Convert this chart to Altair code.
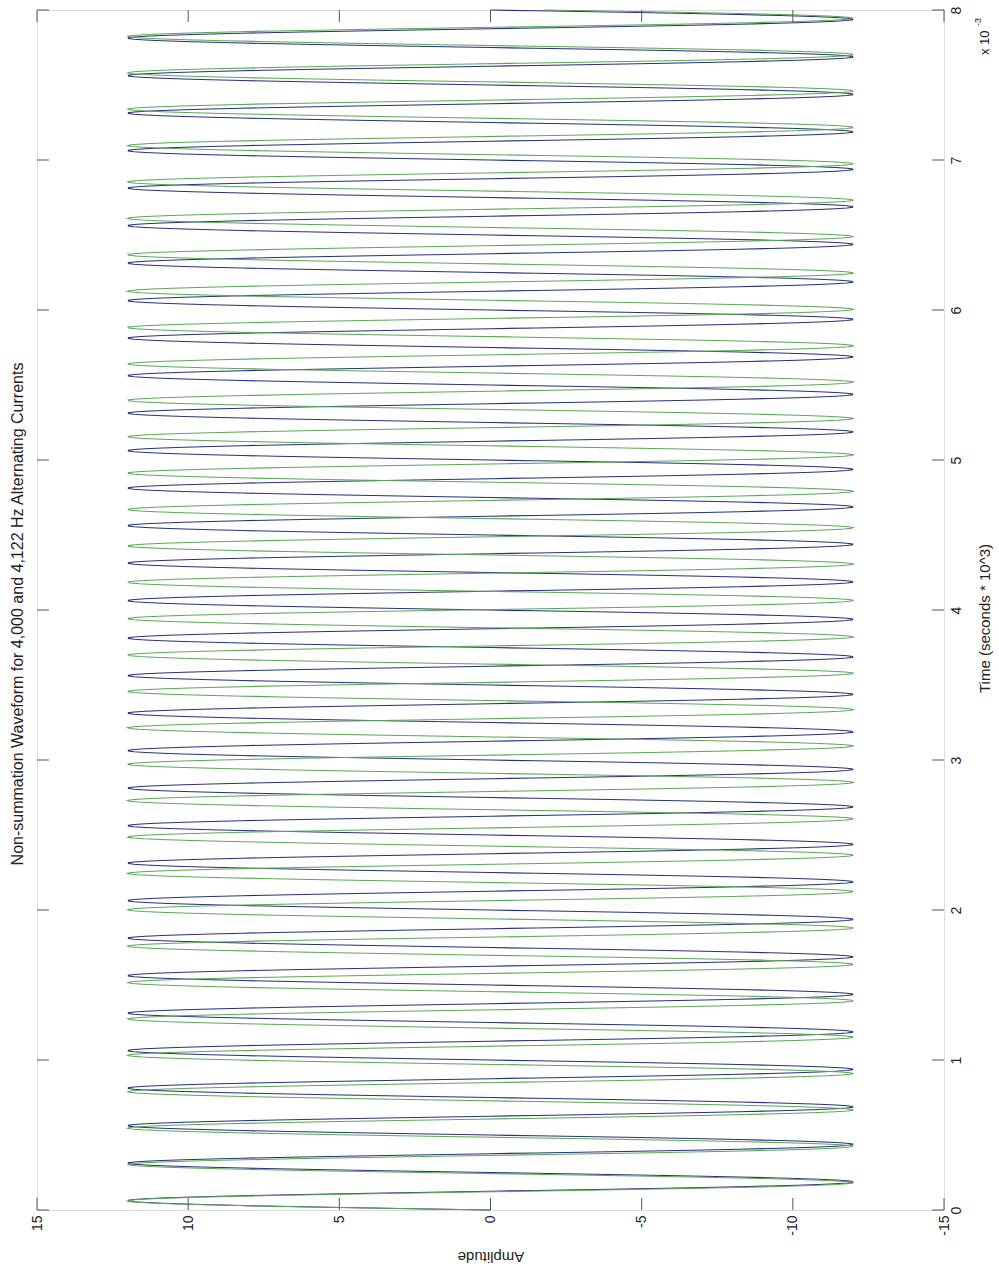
import numpy as np
import pandas as pd
import altair as alt

# Two alternating currents plotted against time (not summed)
freqs_hz = [4000, 4122]
series_names = ["4,000 Hz", "4,122 Hz"]
series_colors = ["#27327a", "#5aa857"]
amplitude = 12
duration_ms = 8
samples_per_ms = 200

amp_ticks = [-15, -10, -5, 0, 5, 10, 15]
time_ticks = [0, 1, 2, 3, 4, 5, 6, 7, 8]

title_text = "Non-summation Waveform for 4,000 and 4,122 Hz Alternating Currents"

t_ms = np.arange(0, duration_ms * samples_per_ms + 1) / samples_per_ms
frames = []
for name, f in zip(series_names, freqs_hz):
    frames.append(pd.DataFrame({
        "t": t_ms,
        "amp": amplitude * np.sin(2 * np.pi * f * t_ms / 1000.0),
        "series": name,
    }))
waves = pd.concat(frames, ignore_index=True)

W, H = 907, 1200
FONT = "Liberation Sans"
TEXT_COLOR = "#222222"
AXIS_COLOR = "#555555"
TICK_LEN = 12

x_scale = alt.Scale(domain=[-15, 15], reverse=True, nice=False, zero=False)
y_scale = alt.Scale(domain=[0, 8], nice=False, zero=False)

x_axis = alt.Axis(
    orient="bottom", values=amp_ticks, labelExpr="'' + datum.value",
    labelAngle=270, labelAlign="right", labelBaseline="middle",
    labelPadding=5, labelFlush=False, labelOverlap=False,
    ticks=False, tickSize=0, domain=False, grid=False,
    labelFont=FONT, labelFontSize=14, labelColor=TEXT_COLOR,
    title="Amplitude", titleAngle=180, titleAlign="center",
    titleBaseline="middle", titleY=46, titleFont=FONT, titleFontSize=15,
    titleFontWeight="normal", titleColor=TEXT_COLOR,
)
y_axis = alt.Axis(
    orient="right", values=time_ticks, labelExpr="'' + datum.value",
    labelAngle=270, labelAlign="center", labelBaseline="top",
    labelPadding=5, labelFlush=False, labelOverlap=False,
    ticks=False, tickSize=0, domain=False, grid=False,
    labelFont=FONT, labelFontSize=14, labelColor=TEXT_COLOR,
    title="Time (seconds * 10^3)", titleAngle=270, titleAlign="center",
    titleBaseline="middle", titleX=40, titleY=608, titleFont=FONT,
    titleFontSize=15, titleFontWeight="normal", titleColor=TEXT_COLOR,
)

lines = alt.Chart(waves).mark_line(strokeWidth=1.2).encode(
    x=alt.X("amp:Q", scale=x_scale, axis=x_axis),
    y=alt.Y("t:Q", scale=y_scale, axis=y_axis),
    color=alt.Color("series:N", scale=alt.Scale(domain=series_names, range=series_colors), legend=None),
    order=alt.Order("t:Q"),
)

amp_df = pd.DataFrame({"amp": amp_ticks})
time_df = pd.DataFrame({"t": time_ticks})

# Inward ticks on all four sides of the box
tick_bottom = alt.Chart(amp_df).mark_rule(color=AXIS_COLOR, strokeWidth=1).encode(
    x=alt.X("amp:Q", scale=x_scale), y=alt.value(H), y2=alt.value(H - TICK_LEN))
tick_top = alt.Chart(amp_df).mark_rule(color=AXIS_COLOR, strokeWidth=1).encode(
    x=alt.X("amp:Q", scale=x_scale), y=alt.value(0), y2=alt.value(TICK_LEN))
tick_left = alt.Chart(time_df).mark_rule(color=AXIS_COLOR, strokeWidth=1).encode(
    y=alt.Y("t:Q", scale=y_scale), x=alt.value(0), x2=alt.value(TICK_LEN))
tick_right = alt.Chart(time_df).mark_rule(color=AXIS_COLOR, strokeWidth=1).encode(
    y=alt.Y("t:Q", scale=y_scale), x=alt.value(W), x2=alt.value(W - TICK_LEN))

# Axis multiplier "x 10^-3" beside the top of the time axis
mult = alt.Chart(pd.DataFrame({"label": ["x 10"]})).mark_text(
    angle=270, align="left", baseline="middle", font=FONT, fontSize=13, color=TEXT_COLOR
).encode(text="label:N", x=alt.value(W + 41), y=alt.value(45))
mult_exp = alt.Chart(pd.DataFrame({"label": ["-3"]})).mark_text(
    angle=270, align="left", baseline="middle", font=FONT, fontSize=9, color=TEXT_COLOR
).encode(text="label:N", x=alt.value(W + 34), y=alt.value(16))

# Chart title running up the left side
title = alt.Chart(pd.DataFrame({"label": [title_text]})).mark_text(
    angle=270, align="center", baseline="middle", font=FONT, fontSize=16, color=TEXT_COLOR
).encode(text="label:N", x=alt.value(-19), y=alt.value(604))

chart = alt.layer(
    lines, tick_bottom, tick_top, tick_left, tick_right, mult, mult_exp, title
).properties(
    width=W, height=H,
    autosize=alt.AutoSizeParams(type="none"),
    padding={"left": 37, "top": 10, "right": 55, "bottom": 60},
).configure_view(
    stroke=AXIS_COLOR, strokeWidth=1.2
).configure(background="white")

chart.save("out.html", embed_options={"renderer": "svg", "actions": False})
